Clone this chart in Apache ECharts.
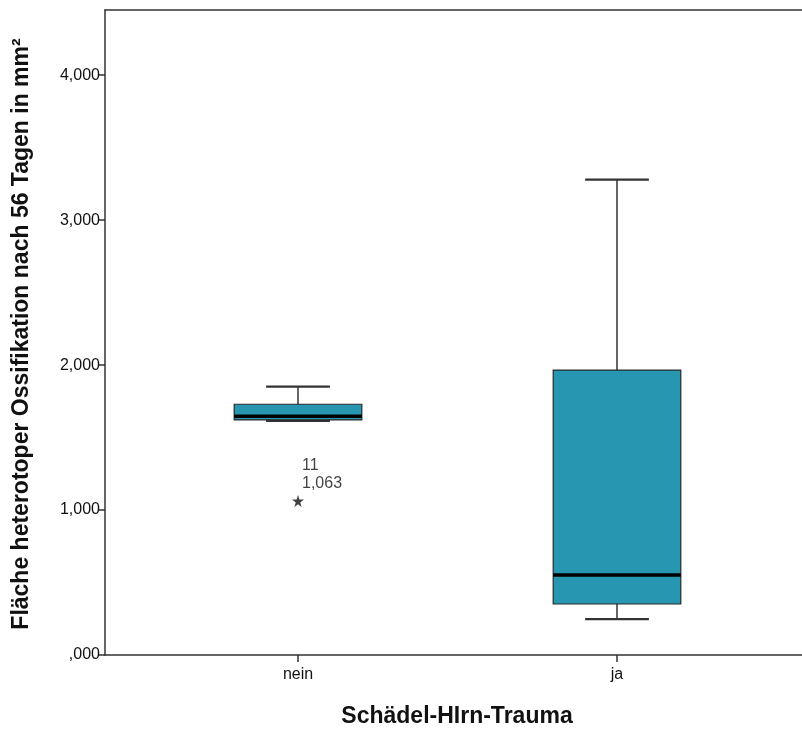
<!DOCTYPE html>
<html>
<head>
<meta charset="utf-8">
<script src="https://cdn.jsdelivr.net/npm/echarts@6/dist/echarts.min.js"></script>
<style>html,body{margin:0;padding:0;background:#fff}#c{width:802px;height:731px}</style>
</head>
<body>
<div id="c"></div>
<script>
// Data
var categories = ['nein', 'ja'];
var whiskerLow = [1615, 248];
var q1 = [1622, 352];
var median = [1648, 552];
var q3 = [1730, 1966];
var whiskerHigh = [1852, 3280];
var outlierCategory = ['nein'];
var outlierValue = [1063];
var outlierCase = ['11'];
var yTickValues = [0, 1000, 2000, 3000, 4000];
var yTickLabels = [',000', '1,000', '2,000', '3,000', '4,000'];
var xTitle = 'Schädel-HIrn-Trauma';
var yTitle = 'Fläche heterotoper Ossifikation nach 56 Tagen in mm²';

var yMax = 4450;
var font = '"Liberation Sans", Arial, sans-serif';
var boxData = categories.map(function (c, i) {
  return [i, whiskerLow[i], q1[i], median[i], q3[i], whiskerHigh[i]];
});
var outlierData = outlierValue.map(function (v, i) {
  return [outlierCategory[i], v, outlierCase[i]];
});

var chart = echarts.init(document.getElementById('c'), null, {renderer: 'canvas'});
chart.setOption({
  animation: false,
  backgroundColor: '#fff',
  grid: [
    {left: 138.5, width: 638, top: 10, bottom: 76},
    {left: 105, right: -2, top: 10, bottom: 76}
  ],
  xAxis: [
    {
      gridIndex: 0, type: 'category', data: categories,
      axisLine: {show: false},
      axisTick: {show: true, alignWithLabel: true, length: 7, lineStyle: {color: '#333', width: 1.5}},
      axisLabel: {color: '#111', fontFamily: font, fontSize: 16, margin: 12},
      splitLine: {show: false}
    },
    {
      gridIndex: 1, type: 'value', min: 0, max: 1, position: 'bottom',
      axisLine: {show: true, onZero: false, lineStyle: {color: '#333', width: 1.5}},
      axisTick: {show: false}, axisLabel: {show: false}, splitLine: {show: false}
    },
    {
      gridIndex: 1, type: 'value', min: 0, max: 1, position: 'top',
      axisLine: {show: true, onZero: false, lineStyle: {color: '#333', width: 1.5}},
      axisTick: {show: false}, axisLabel: {show: false}, splitLine: {show: false}
    }
  ],
  yAxis: [
    {
      gridIndex: 0, type: 'value', min: 0, max: yMax, show: false, splitLine: {show: false}
    },
    {
      gridIndex: 1, type: 'value', min: 0, max: yMax, interval: 1000,
      axisLine: {show: true, onZero: false, lineStyle: {color: '#333', width: 1.5}},
      axisTick: {show: true, length: 6, customValues: yTickValues, lineStyle: {color: '#333', width: 1.5}},
      axisLabel: {
        customValues: yTickValues, color: '#111', fontFamily: font, fontSize: 16, margin: 5,
        formatter: function (v) { var i = yTickValues.indexOf(v); return i >= 0 ? yTickLabels[i] : ''; }
      },
      splitLine: {show: false}
    }
  ],
  series: [
    {
      type: 'custom',
      xAxisIndex: 0, yAxisIndex: 0,
      data: boxData,
      encode: {x: 0, y: [1, 2, 3, 4, 5]},
      renderItem: function (params, api) {
        var ci = api.value(0);
        var band = api.size([1, 0])[0];
        var bw = band * 0.4;
        var cw = bw / 2;
        var pLow = api.coord([ci, api.value(1)]);
        var pQ1 = api.coord([ci, api.value(2)]);
        var pMed = api.coord([ci, api.value(3)]);
        var pQ3 = api.coord([ci, api.value(4)]);
        var pHigh = api.coord([ci, api.value(5)]);
        var x = pMed[0];
        var stroke = {stroke: '#333', lineWidth: 1.5};
        return {
          type: 'group',
          children: [
            {type: 'line', shape: {x1: x, y1: pHigh[1], x2: x, y2: pQ3[1]}, style: stroke},
            {type: 'line', shape: {x1: x, y1: pQ1[1], x2: x, y2: pLow[1]}, style: stroke},
            {type: 'line', shape: {x1: x - cw / 2, y1: pHigh[1], x2: x + cw / 2, y2: pHigh[1]}, style: {stroke: '#333', lineWidth: 2.2}},
            {type: 'line', shape: {x1: x - cw / 2, y1: pLow[1], x2: x + cw / 2, y2: pLow[1]}, style: {stroke: '#333', lineWidth: 2.2}},
            {type: 'rect', shape: {x: x - bw / 2, y: pQ3[1], width: bw, height: pQ1[1] - pQ3[1]},
              style: {fill: '#2796b1', stroke: '#2a2a2a', lineWidth: 1.2}},
            {type: 'line', shape: {x1: x - bw / 2, y1: pMed[1], x2: x + bw / 2, y2: pMed[1]}, style: {stroke: '#000', lineWidth: 3.5}}
          ]
        };
      },
      z: 3
    },
    {
      type: 'scatter',
      xAxisIndex: 0, yAxisIndex: 0,
      data: outlierData,
      symbol: 'path://M50,0 L61,35 L98,35 L68,57 L79,91 L50,70 L21,91 L32,57 L2,35 L39,35 Z',
      symbolSize: 12,
      itemStyle: {color: '#111'},
      label: {
        show: true,
        position: [10, -2],
        align: 'left', verticalAlign: 'bottom',
        fontFamily: font, fontSize: 16, lineHeight: 18, color: '#111',
        formatter: function (p) {
          return p.data[2] + '\n' + p.data[1].toLocaleString('en-US');
        }
      },
      z: 4
    }
  ],
  graphic: [
    {type: 'text', x: 457, y: 717,
      style: {text: xTitle, fontFamily: font, fontSize: 23, fontWeight: 'bold', fill: '#111', align: 'center', verticalAlign: 'middle'}},
    {type: 'text', x: 22, y: 334, rotation: Math.PI / 2,
      style: {text: yTitle, fontFamily: font, fontSize: 23, fontWeight: 'bold', fill: '#111', align: 'center', verticalAlign: 'middle'}}
  ]
});
</script>
</body>
</html>
